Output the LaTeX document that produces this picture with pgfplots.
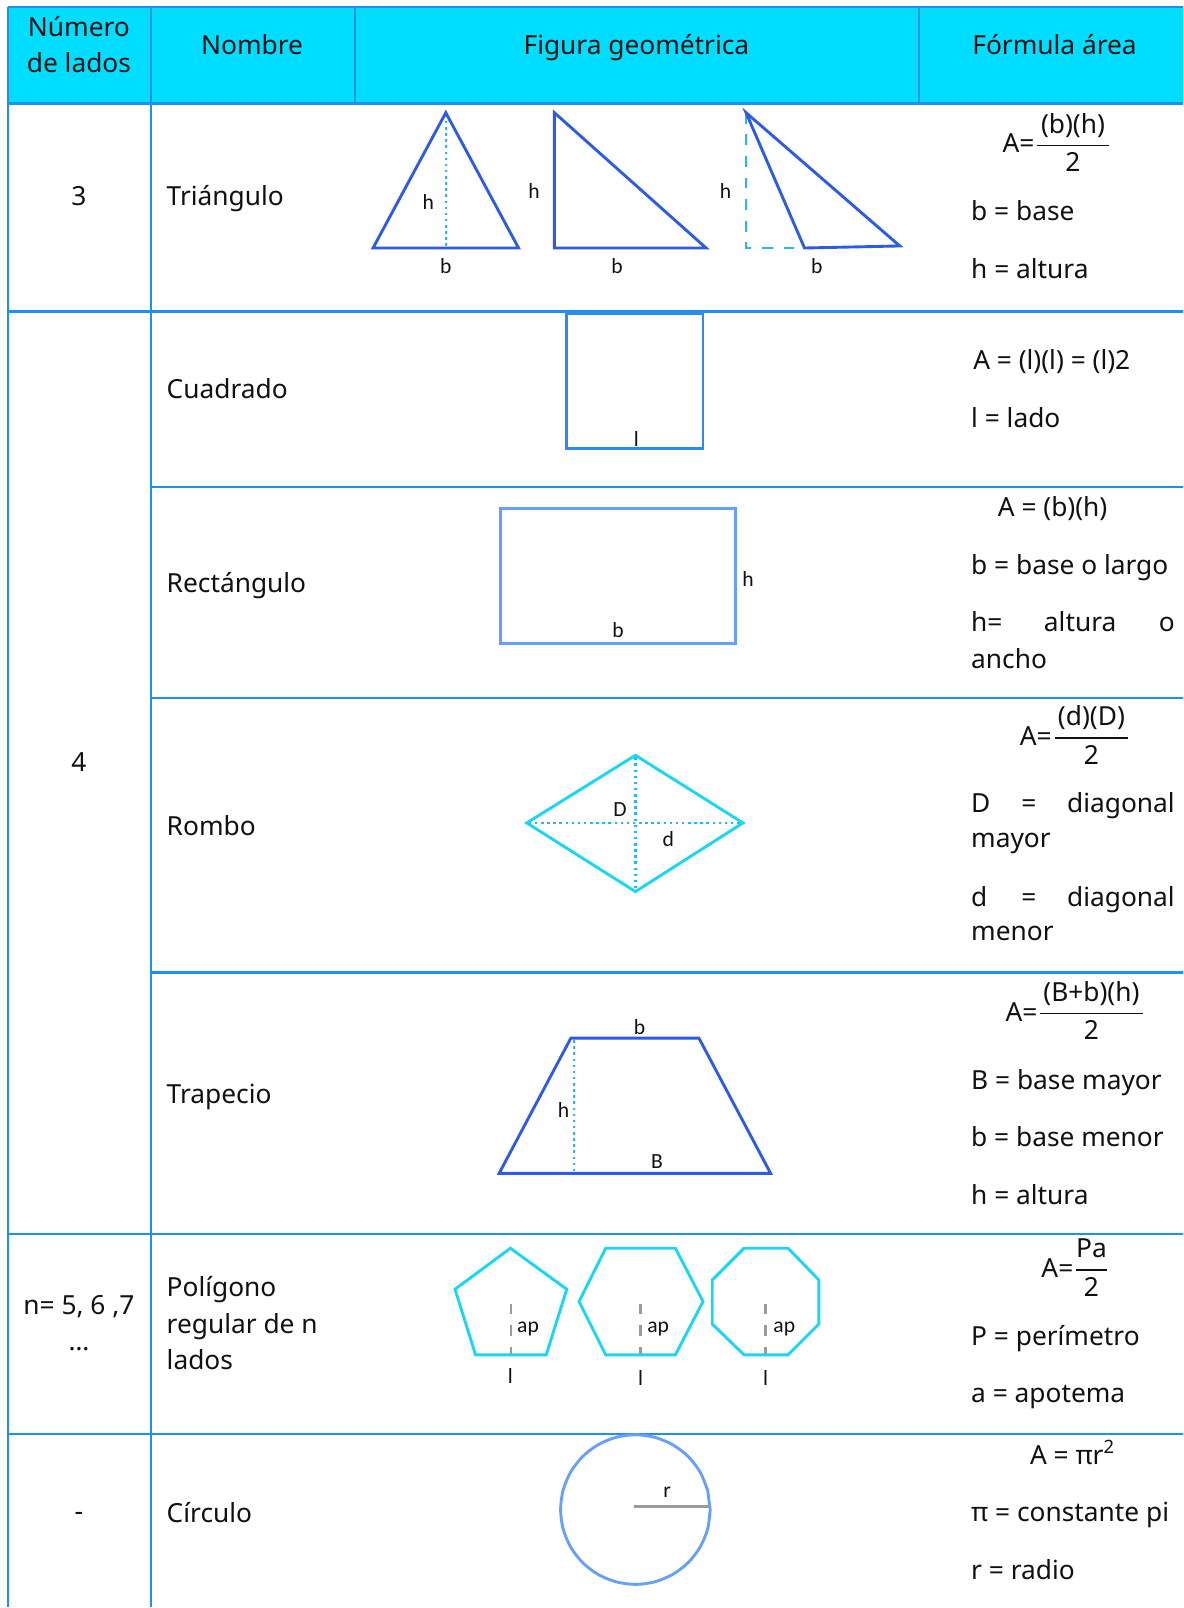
\documentclass[border=0pt]{standalone}
\usepackage{fontspec}
\setmainfont{Noto Sans}
\newfontfamily\lblfont{Carlito}
\usepackage{pgfplots}
\pgfplotsset{compat=1.18}
\definecolor{hdr}{HTML}{00DDFF}
\definecolor{grd}{HTML}{1E90F0}
\definecolor{tri}{HTML}{2E5BE6}
\definecolor{sq}{HTML}{2A8CF0}
\definecolor{rct}{HTML}{66A0FA}
\definecolor{cy}{HTML}{1AD6F5}
\definecolor{dotc}{HTML}{29B6F0}
\definecolor{gr}{HTML}{9A9A9A}
\definecolor{txt}{HTML}{111111}
\newcommand\T{\fontsize{7.3pt}{8.8pt}\selectfont}
\newcommand\sml{\lblfont\fontsize{6pt}{7pt}\selectfont}
\tikzset{
  tl/.style={anchor=base west, inner sep=0pt, text=txt, font=\T},
  tc/.style={anchor=base, inner sep=0pt, text=txt, font=\T},
  tr/.style={anchor=base east, inner sep=0pt, text=txt, font=\T},
  lb/.style={anchor=center, inner sep=0pt, text=txt, font=\sml},
  gl/.style={color=grd, line width=0.6pt},
}
\begin{document}
\begin{tikzpicture}
\begin{axis}[scale only axis, width=11.54cm, height=15.68cm,
  xmin=0, xmax=1154, ymin=0, ymax=1568, y dir=reverse, hide axis, clip=false]
% background and header
\addplot[fill=white, draw=none] coordinates {(0,0)(1154,0)(1154,1568)(0,1568)} -- cycle;
\addplot[fill=hdr, draw=none] coordinates {(8,7)(1154,7)(1154,101)(8,101)} -- cycle;
% table lines
\addplot[gl] coordinates {(8,7)(1154,7)};
\addplot[gl] coordinates {(8,7)(8,1568)};
\addplot[gl] coordinates {(147,7)(147,1568)};
\addplot[gl] coordinates {(346,7)(346,101)};
\addplot[gl] coordinates {(897,7)(897,101)};
\addplot[gl] coordinates {(8,101)(1154,101)};
\addplot[gl] coordinates {(8,304)(1154,304)};
\addplot[gl] coordinates {(147,475)(1154,475)};
\addplot[gl] coordinates {(147,681)(1154,681)};
\addplot[gl] coordinates {(147,949)(1154,949)};
\addplot[gl] coordinates {(8,1204)(1154,1204)};
\addplot[gl] coordinates {(8,1399)(1154,1399)};
% header text
\node[tc] at (axis cs:77,36) {Número};
\node[tc] at (axis cs:77,71) {de lados};
\node[tc] at (axis cs:246,53) {Nombre};
\node[tc] at (axis cs:621,53) {Figura geométrica};
\node[tc] at (axis cs:1029,53) {Fórmula área};
% column 1
\node[tc] at (axis cs:77,201) {3};
\node[tc] at (axis cs:77,753) {4};
\node[tc] at (axis cs:77,1283) {n= 5, 6 ,7};
\node[tc] at (axis cs:77,1318) {…};
\node[tc] at (axis cs:77,1484) {-};
% column 2
\node[tl] at (axis cs:162,201) {Triángulo};
\node[tl] at (axis cs:162,389) {Cuadrado};
\node[tl] at (axis cs:162,578) {Rectángulo};
\node[tl] at (axis cs:162,815) {Rombo};
\node[tl] at (axis cs:162,1077) {Trapecio};
\node[tl] at (axis cs:162,1265) {Polígono};
\node[tl] at (axis cs:162,1301) {regular de n};
\node[tl] at (axis cs:162,1336) {lados};
\node[tl] at (axis cs:162,1486) {Círculo};
% column 4 - triangle
\node[tr] at (axis cs:1010,149) {A=};
\node[tc] at (axis cs:1047,130) {(b)(h)};
\addplot[color=txt, line width=0.5pt] coordinates {(1012,142)(1082,142)};
\node[tc] at (axis cs:1047,167) {2};
\node[tl] at (axis cs:947,215) {b = base};
\node[tl] at (axis cs:947,272) {h = altura};
% square
\node[tl] at (axis cs:949,361) {A = (l)(l) = (l)2};
\node[tl] at (axis cs:947,417) {l = lado};
% rectangle
\node[tl] at (axis cs:973,504) {A = (b)(h)};
\node[tl] at (axis cs:947,561) {b = base o largo};
\node[tl] at (axis cs:947,616) {h=};
\node[tc] at (axis cs:1054,616) {altura};
\node[tr] at (axis cs:1147,616) {o};
\node[tl] at (axis cs:947,652) {ancho};
% rhombus
\node[tr] at (axis cs:1027,727) {A=};
\node[tc] at (axis cs:1065,708) {(d)(D)};
\addplot[color=txt, line width=0.5pt] coordinates {(1029,720)(1101,720)};
\node[tc] at (axis cs:1065,746) {2};
\node[tl] at (axis cs:947,793) {D};
\node[tc] at (axis cs:1004,793) {=};
\node[tr] at (axis cs:1147,793) {diagonal};
\node[tl] at (axis cs:947,827) {mayor};
\node[tl] at (axis cs:947,885) {d};
\node[tc] at (axis cs:1004,885) {=};
\node[tr] at (axis cs:1147,885) {diagonal};
\node[tl] at (axis cs:947,918) {menor};
% trapezoid
\node[tr] at (axis cs:1013,997) {A=};
\node[tc] at (axis cs:1065,977) {(B+b)(h)};
\addplot[color=txt, line width=0.5pt] coordinates {(1015,989)(1115,989)};
\node[tc] at (axis cs:1065,1014) {2};
\node[tl] at (axis cs:947,1063) {B = base mayor};
\node[tl] at (axis cs:947,1119) {b = base menor};
\node[tl] at (axis cs:947,1175) {h = altura};
% polygon
\node[tr] at (axis cs:1048,1247) {A=};
\node[tc] at (axis cs:1065,1227) {Pa};
\addplot[color=txt, line width=0.5pt] coordinates {(1050,1239)(1080,1239)};
\node[tc] at (axis cs:1065,1265) {2};
\node[tl] at (axis cs:947,1313) {P = perímetro};
\node[tl] at (axis cs:947,1369) {a = apotema};
% circle
\node[tc] at (axis cs:1047,1429) {A = πr\textsuperscript{2}};
\node[tl] at (axis cs:947,1485) {π = constante pi};
\node[tl] at (axis cs:947,1541) {r = radio};
% ---------- figures ----------
% triangles
\addplot[color=dotc, line width=0.7pt, densely dotted] coordinates {(435,112)(435,242)};
\addplot[color=tri, line width=0.8pt, line join=miter] coordinates {(435,110)(506,242)(364,242)} -- cycle;
\addplot[color=tri, line width=0.8pt, line join=miter] coordinates {(541,110)(689,242)(541,242)} -- cycle;
\addplot[color=dotc, line width=0.7pt, dashed] coordinates {(728,110)(728,242)(785,242)};
\addplot[color=tri, line width=0.8pt, line join=miter] coordinates {(728,110)(878,240)(785,242)} -- cycle;
\node[lb] at (axis cs:418,197) {h};
\node[lb] at (axis cs:435,260) {b};
\node[lb] at (axis cs:521,186) {h};
\node[lb] at (axis cs:602,260) {b};
\node[lb] at (axis cs:708,186) {h};
\node[lb] at (axis cs:797,260) {b};
% square
\addplot[color=sq, line width=0.8pt] coordinates {(553,306)(686,306)(686,438)(553,438)} -- cycle;
\node[lb] at (axis cs:621,428) {l};
% rectangle
\addplot[color=rct, line width=0.8pt] coordinates {(488,496)(718,496)(718,628)(488,628)} -- cycle;
\node[lb] at (axis cs:730,565) {h};
\node[lb] at (axis cs:603,615) {b};
% rhombus
\addplot[color=dotc, line width=0.7pt, densely dotted] coordinates {(516,803)(723,803)};
\addplot[color=dotc, line width=0.7pt, densely dotted] coordinates {(620,739)(620,868)};
\addplot[color=cy, line width=0.8pt] coordinates {(514,803)(620,737)(725,803)(620,870)} -- cycle;
\node[lb] at (axis cs:605,790) {D};
\node[lb] at (axis cs:652,819) {d};
% trapezoid
\addplot[color=dotc, line width=0.7pt, densely dotted] coordinates {(560,1015)(560,1145)};
\addplot[color=tri, line width=0.8pt] coordinates {(487,1145)(557,1013)(682,1013)(752,1145)} -- cycle;
\node[lb] at (axis cs:624,1002) {b};
\node[lb] at (axis cs:550,1083) {h};
\node[lb] at (axis cs:641,1133) {B};
% polygons
\addplot[color=gr, line width=0.6pt, dashed] coordinates {(499,1272)(499,1322)};
\addplot[color=gr, line width=0.6pt, dashed] coordinates {(625,1272)(625,1322)};
\addplot[color=gr, line width=0.6pt, dashed] coordinates {(747,1272)(747,1322)};
\addplot[color=cy, line width=0.8pt] coordinates {(498,1218)(553,1258)(533,1322)(464,1322)(444,1258)} -- cycle;
\addplot[color=cy, line width=0.8pt] coordinates {(591,1218)(659,1218)(686,1270)(659,1322)(591,1322)(565,1270)} -- cycle;
\addplot[color=cy, line width=0.8pt] coordinates {(726,1218)(769,1218)(799,1249)(799,1292)(769,1322)(726,1322)(695,1292)(695,1249)} -- cycle;
\node[lb, anchor=base west] at (axis cs:504,1300) {ap};
\node[lb, anchor=base west] at (axis cs:631,1300) {ap};
\node[lb, anchor=base west] at (axis cs:754,1300) {ap};
\node[lb, anchor=base] at (axis cs:498,1350) {l};
\node[lb, anchor=base] at (axis cs:625,1352) {l};
\node[lb, anchor=base] at (axis cs:747,1352) {l};
% circle
\addplot[color=rct, line width=0.8pt, smooth] coordinates {
(693,1473)(690.51,1491.89)(683.22,1509.5)(671.62,1524.62)(656.5,1536.22)(638.89,1543.51)
(620,1546)(601.11,1543.51)(583.5,1536.22)(568.38,1524.62)(556.78,1509.5)(549.49,1491.89)
(547,1473)(549.49,1454.11)(556.78,1436.5)(568.38,1421.38)(583.5,1409.78)(601.11,1402.49)
(620,1400)(638.89,1402.49)(656.5,1409.78)(671.62,1421.38)(683.22,1436.5)(690.51,1454.11)} -- cycle;
\addplot[color=gr, line width=0.7pt] coordinates {(619,1470)(693,1470)};
\node[lb] at (axis cs:651,1456) {r};
\end{axis}
\end{tikzpicture}
\end{document}
